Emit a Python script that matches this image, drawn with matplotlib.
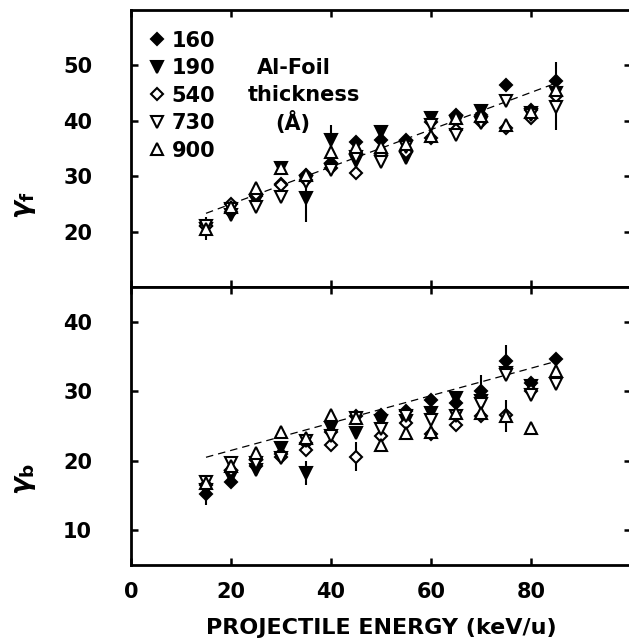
import numpy as np
import matplotlib
matplotlib.use("Agg")
import matplotlib.pyplot as plt

# ---------------- data ----------------
energy = [15, 20, 25, 30, 35, 40, 45, 50, 55, 60, 65, 70, 75, 80, 85]
thickness_labels = ["160", "190", "540", "730", "900"]

# gamma_f (upper panel)
gf_160 = [21.0, 23.5, 26.5, 28.6, 30.2, 32.3, 36.2, 36.5, 36.5, 39.8, 41.1, 41.1, 46.5, 42.0, 47.2]
gf_190 = [20.5, 23.0, 25.6, 31.5, 26.0, 36.5, 32.7, 38.0, 33.2, 40.5, 39.8, 41.7, np.nan, 41.4, 45.0]
gf_540 = [21.0, 25.0, 26.8, 28.4, 29.4, 31.4, 30.5, 34.0, 34.4, 36.9, 38.4, 39.8, 38.7, 40.5, 44.5]
gf_730 = [21.0, 24.0, 24.4, 26.3, 29.0, 31.1, 33.5, 32.5, 35.3, 39.2, 37.5, 39.6, 43.5, 41.0, 42.5]
gf_900 = [20.5, 24.5, 27.8, 31.5, 30.3, 34.4, 35.3, 35.3, 35.9, 37.2, 40.5, 40.8, 39.3, 41.5, 45.6]

gf_err_160 = [0, 0, 0, 0, 0, 0, 0, 0, 0, 0, 0, 0, 0, 0, 0]
gf_err_190 = [2.1, 0, 0, 0, 4.3, 2.7, 0, 0, 0, 0, 0, 0, 0, 0, 0]
gf_err_540 = [0, 0, 0, 0, 0, 0, 0, 0, 0, 0, 0, 0, 0, 0, 6.2]
gf_err_730 = [0, 0, 0, 0, 0, 0, 0, 0, 0, 0, 0, 0, 0, 0, 0]
gf_err_900 = [0, 0, 0, 0, 0, 0, 0, 0, 0, 0, 0, 0, 0, 0, 0]

gf_fit_x = [15, 85]
gf_fit_y = [23.3, 46.8]

# gamma_b (lower panel)
gb_160 = [15.2, 17.0, 19.2, 20.9, 22.5, 24.2, 26.4, 26.6, 27.1, 28.8, 28.3, 30.0, 34.3, 31.2, 34.6]
gb_190 = [15.8, 17.7, 18.7, 21.8, 18.2, 24.7, 24.0, 25.7, 25.7, 26.9, 29.0, 28.6, 32.6, 30.7, np.nan]
gb_540 = [16.5, 18.7, 20.1, 20.6, 21.6, 22.3, 20.6, 23.5, 25.4, 23.8, 25.2, 26.4, 26.6, 30.0, np.nan]
gb_730 = [17.0, 19.7, 19.7, 20.4, 22.8, 23.5, 26.2, 24.5, 26.4, 25.9, 26.4, 28.1, 32.4, 29.5, 31.0]
gb_900 = [16.8, 19.2, 21.1, 24.2, 23.3, 26.6, 26.2, 22.3, 24.0, 24.2, 26.9, 26.9, 26.4, 24.7, 32.9]

gb_err_160 = [0, 0, 0, 0, 0, 0, 0, 0, 0, 0, 0, 2.4, 2.3, 0, 0]
gb_err_190 = [2.2, 0, 0, 0, 1.7, 0, 0, 0, 0, 0, 0, 0, 0, 0, 0]
gb_err_540 = [0, 0, 0, 0, 0, 0, 2.1, 0, 0, 0, 0, 0, 0, 0, 0]
gb_err_730 = [0, 0, 0, 0, 0, 0, 0, 0, 0, 0, 0, 0, 0, 0, 0]
gb_err_900 = [0, 0, 0, 0, 0, 0, 0, 0, 0, 0, 0, 0, 2.3, 0, 0]

gb_fit_x = [15, 85]
gb_fit_y = [20.5, 34.3]

x_ticks = [0, 20, 40, 60, 80, 100]
x_ticklabels = ["0", "20", "40", "60", "80", ""]
gf_ticks = [20, 30, 40, 50]
gb_ticks = [10, 20, 30, 40]

# ---------------- style ----------------
plt.rcParams['font.family'] = ['DejaVu Sans']
plt.rcParams['font.weight'] = 'bold'
plt.rcParams['mathtext.fontset'] = 'dejavusans'

styles = [
    dict(marker='D', ms=6.5, mfc='black'),
    dict(marker='v', ms=8, mfc='black'),
    dict(marker='D', ms=6.5, mfc='white'),
    dict(marker='v', ms=8.5, mfc='white'),
    dict(marker='^', ms=8.5, mfc='white'),
]

fig = plt.figure(figsize=(6.29, 6.40), dpi=100)
L = 131 / 629
W = 500 / 629
ax1 = fig.add_axes([L, 1 - 287 / 640, W, 277 / 640])
ax2 = fig.add_axes([L, 1 - 565 / 640, W, 278 / 640])

top_series = [gf_160, gf_190, gf_540, gf_730, gf_900]
top_errs = [gf_err_160, gf_err_190, gf_err_540, gf_err_730, gf_err_900]
bot_series = [gb_160, gb_190, gb_540, gb_730, gb_900]
bot_errs = [gb_err_160, gb_err_190, gb_err_540, gb_err_730, gb_err_900]

handles = []
for ax, series, errs, fx, fy in [(ax1, top_series, top_errs, gf_fit_x, gf_fit_y),
                                 (ax2, bot_series, bot_errs, gb_fit_x, gb_fit_y)]:
    ax.plot(fx, fy, color='black', lw=0.9, ls=(0, (6, 4)), zorder=1)
    hs = []
    for vals, err, st in zip(series, errs, styles):
        v = np.array(vals, dtype=float)
        e = np.array(err, dtype=float)
        ax.errorbar(energy, v, yerr=e, fmt='none', ecolor='black', elinewidth=1.5, capsize=0, zorder=2)
        h, = ax.plot(energy, v, ls='none', marker=st['marker'], ms=st['ms'],
                     mfc=st['mfc'], mec='black', mew=1.5, zorder=3)
        hs.append(h)
    handles.append(hs)
    ax.set_xlim(0, 100)
    ax.set_xticks(x_ticks)
    ax.set_xticklabels(x_ticklabels)
    ax.tick_params(direction='in', top=True, right=True, length=5, width=1.8,
                   labelsize=15, pad=12)
    ax.tick_params(axis='y', pad=28)
    for sp in ax.spines.values():
        sp.set_linewidth(2.0)
    ax.spines['right'].set_visible(False)

ax1.set_ylim(10, 60)
ax1.set_yticks(gf_ticks)
ax1.tick_params(labelbottom=False)
ax2.set_ylim(5, 45)
ax2.set_yticks(gb_ticks)

for ax in (ax1, ax2):
    for lab in ax.get_xticklabels() + ax.get_yticklabels():
        lab.set_fontweight('bold')

fig.text(25 / 629, 1 - 205 / 640, r'$\gamma_{\mathrm{f}}$', fontsize=19,
         rotation=90, ha='center', va='center')
fig.text(25 / 629, 1 - 479 / 640, r'$\gamma_{\mathrm{b}}$', fontsize=19,
         rotation=90, ha='center', va='center')

ax2.set_xlabel('PROJECTILE ENERGY (keV/u)', fontsize=16, fontweight='bold', labelpad=12)

leg = ax1.legend(handles[0], thickness_labels, loc='upper left',
                 bbox_to_anchor=(0.035, 0.925), frameon=False,
                 prop=dict(size=15, weight='bold'), handlelength=0.8,
                 handletextpad=0.3, labelspacing=0.36, borderpad=0, borderaxespad=0)

ax1.text(0.252, 0.792, 'Al-Foil', transform=ax1.transAxes, fontsize=15,
         fontweight='bold', va='center', ha='left')
ax1.text(0.234, 0.692, 'thickness', transform=ax1.transAxes, fontsize=15,
         fontweight='bold', va='center', ha='left')
ax1.text(0.288, 0.594, '(Å)', transform=ax1.transAxes, fontsize=15,
         fontweight='bold', va='center', ha='left')

fig.savefig('out.png', dpi=100)
